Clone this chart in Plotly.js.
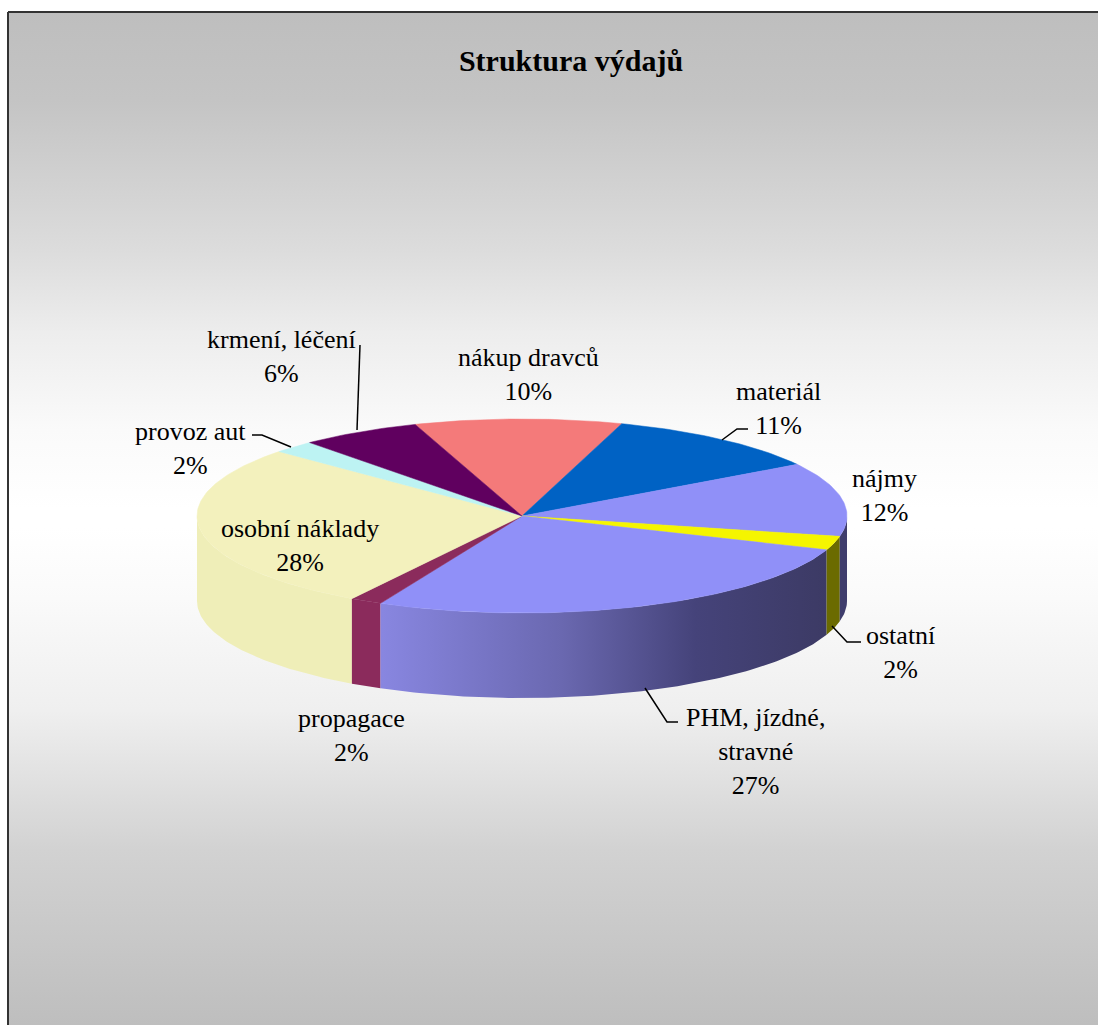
<!DOCTYPE html>
<html><head><meta charset="utf-8">
<script src="https://cdn.plot.ly/plotly-3.0.0.min.js"></script>
<style>html,body{margin:0;padding:0;background:#fff;overflow:hidden}#chart{width:1098px;height:1025px}</style>
</head><body><div id="chart"></div>
<script>
var chartTitle = 'Struktura výdajů';
var categories = ['nákup dravců','materiál','nájmy','ostatní','PHM, jízdné,<br>stravné','propagace','osobní náklady','provoz aut','krmení, léčení'];
var shares = [10.3,11.1,12.3,2.3,26.5,1.6,27.8,2.1,6.0];
var topColors = ['#f47a7a','#0062c4','#9090f8','#f5f500','#9090f8','#8b2b5c','#f3f1bd','#bdf3f3','#60005f'];
var sideColors = ['#a85050','#004488','#3f3d6c','#6b6b00','#6a68b0','#8b2b5c','#efeeb8','#8ab0b0','#400040'];
var labelX = [528,778,884,900,755,351,300,190,281];
var labelY = [374,408,495,652,751,735,545,448,356];

var CX=522, CY=516, RX=325, RY=97, DEPTH=85, START=109.2;
var pt=function(t,dy){var r=t*Math.PI/180;return [CX+RX*Math.cos(r),CY-RY*Math.sin(r)+(dy||0)];};
var W=1098,H=1025;
var traces=[];

// background panel with vertical gradient
traces.push({type:'scatter',mode:'lines',x:[8,W+20,W+20,8,8],y:[12,12,H+20,H+20,12],fill:'toself',
  line:{color:'#333333',width:2},hoverinfo:'skip',showlegend:false,
  fillgradient:{type:'vertical',start:12,stop:1024,colorscale:[
    [0,'#bebebe'],[0.087,'#c4c4c4'],[0.235,'#dcdcdc'],[0.317,'#ededed'],[0.413,'#fafafa'],
    [0.49,'#ffffff'],[0.51,'#ffffff'],[0.58,'#fafafa'],[0.69,'#efefef'],[0.828,'#d2d2d2'],[1,'#bebebe']]}});

// compute slice angles from shares
var total=shares.reduce(function(a,b){return a+b;},0), a=START, slices=[];
shares.forEach(function(v,i){var b=a-360*v/total;slices.push({i:i,a:a,b:b});a=b;});

// side walls: only the parts on the lower half
function sidePoly(s){
  var hi=Math.min(s.a,0), low=Math.max(s.b,-180);
  if(hi<=low) return null;
  var xs=[],ys=[],t,up=[],dn=[];
  for(t=hi;t>low;t-=1){up.push(pt(t,0));dn.push(pt(t,DEPTH));}
  up.push(pt(low,0));dn.push(pt(low,DEPTH));
  up.concat(dn.reverse()).forEach(function(p){xs.push(p[0]);ys.push(p[1]);});
  xs.push(xs[0]);ys.push(ys[0]);
  return {x:xs,y:ys};
}
var phmScale=[[0,'#8886e0'],[0.4,'#6a68b0'],[0.7,'#45437a'],[1,'#3c3a64']];
[6,5,4,3,2].forEach(function(i){
  var p=sidePoly(slices[i]); if(!p) return;
  var tr={type:'scatter',mode:'lines',x:p.x,y:p.y,fill:'toself',line:{width:0,color:sideColors[i]},
    name:categories[i].replace('<br>',' '),hoverinfo:'name',showlegend:false};
  if(i===4){tr.fillgradient={type:'horizontal',start:382,stop:830,colorscale:phmScale};}
  else{tr.fillcolor=sideColors[i];}
  traces.push(tr);
});

// top faces
slices.forEach(function(s){
  var xs=[CX],ys=[CY],t;
  for(t=s.a;t>s.b;t-=1){var p=pt(t);xs.push(p[0]);ys.push(p[1]);}
  var e=pt(s.b);xs.push(e[0]);ys.push(e[1]);xs.push(CX);ys.push(CY);
  traces.push({type:'scatter',mode:'lines',x:xs,y:ys,fill:'toself',fillcolor:topColors[s.i],
    line:{width:0.5,color:topColors[s.i]},name:categories[s.i].replace('<br>',' ')+' '+Math.round(shares[s.i])+'%',
    hoverinfo:'name',showlegend:false});
});

// labels
var annotations=categories.map(function(c,i){
  return {x:labelX[i],y:labelY[i],xref:'x',yref:'y',xanchor:'center',yanchor:'middle',align:'center',
    showarrow:false,text:c+'<br>'+Math.round(shares[i])+'%',font:{family:'Liberation Serif',size:26,color:'#000'}};
});

// leader lines
var leaders=['M360 345 L357 430','M252 435 L262 435 L291 447','M748 429 L737 429 L722 440',
  'M861 642 L847 642 L832 626','M678 722 L667 722 L645 688'];
var shapes=leaders.map(function(d){return {type:'path',xref:'x',yref:'y',path:d,line:{color:'#000',width:1.5},layer:'above'};});

Plotly.newPlot('chart',traces,{
  width:W,height:H,margin:{l:0,r:0,t:0,b:0,pad:0},paper_bgcolor:'#fff',plot_bgcolor:'#fff',showlegend:false,
  title:{text:chartTitle,x:571/W,xref:'paper',xanchor:'center',y:1-60/H,yref:'paper',yanchor:'middle',
    font:{family:'Liberation Serif',size:30,color:'#000',weight:'bold'}},
  xaxis:{range:[0,W],visible:false,fixedrange:true},
  yaxis:{range:[H,0],visible:false,fixedrange:true},
  annotations:annotations,shapes:shapes
},{displayModeBar:false});
</script></body></html>
